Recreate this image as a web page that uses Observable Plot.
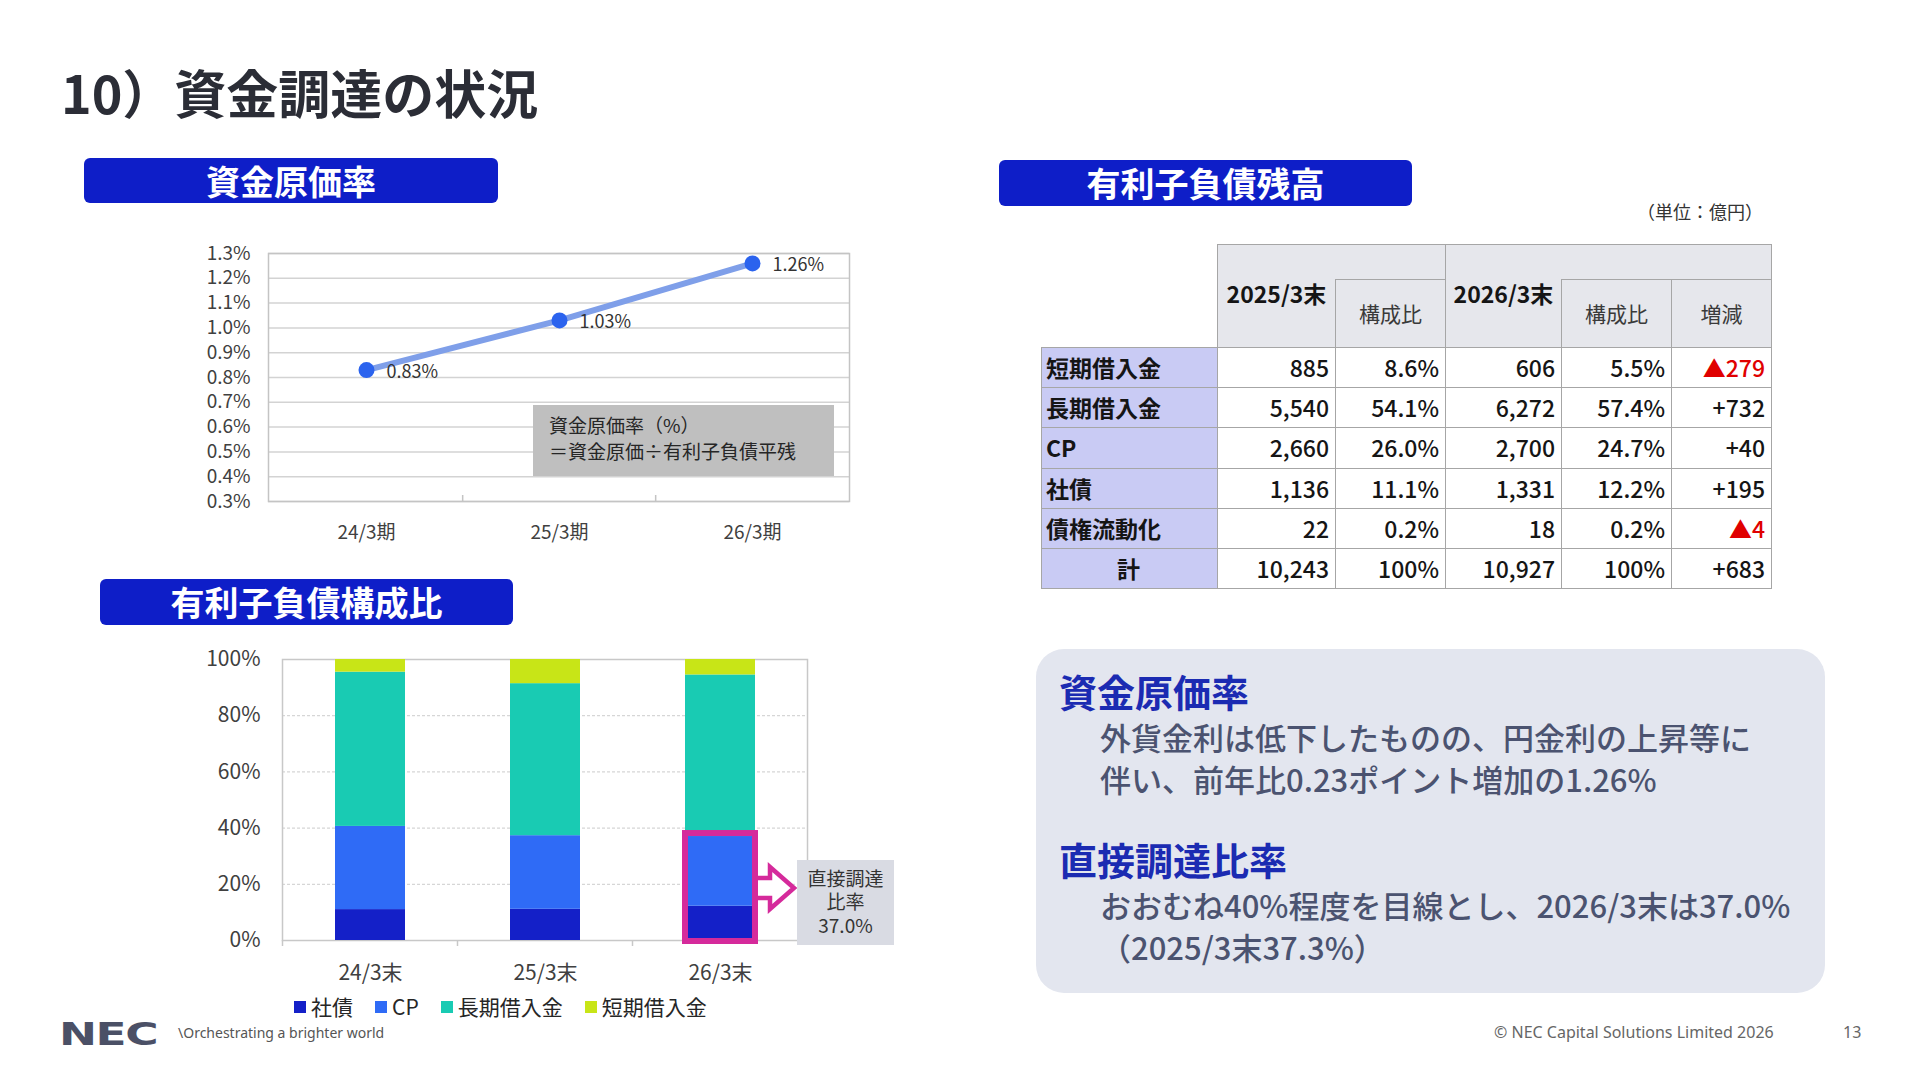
<!DOCTYPE html>
<html lang="ja">
<head>
<meta charset="utf-8">
<title>資金調達の状況</title>
<script src="https://cdn.jsdelivr.net/npm/d3@7"></script>
<script src="https://cdn.jsdelivr.net/npm/@observablehq/plot@0.6"></script>
<style>
  html, body { margin: 0; padding: 0; background: #fff; }
  #slide { position: relative; width: 1920px; height: 1080px; overflow: hidden;
           font-family: "Noto Sans CJK JP", "Noto Sans", sans-serif; color: #222; }
  .abs { position: absolute; white-space: nowrap; line-height: 1; }
  .title { left: 61px; top: 66px; font-size: 52px; font-weight: 700; color: #2b2d36; }
  .badge { position: absolute; background: #0e1ec8; color: #fff; font-weight: 700; font-size: 34px;
           border-radius: 6px; display: flex; align-items: center; justify-content: center; line-height: 1; }
  .formula { position: absolute; left: 533px; top: 405px; width: 301px; height: 71px; background: #bfbfbf; }
  .formula div { position: absolute; left: 16px; font-size: 19px; color: #262626; line-height: 1; white-space: nowrap; }
  #debt { position: absolute; left: 1041px; top: 244px; border-collapse: collapse; table-layout: fixed;
          font-size: 23px; color: #151515; }
  #debt td { border: 1.5px solid #a6a6a6; padding: 0 6px; box-sizing: border-box; line-height: 1; }
  #debt td.blank { border: none; background: #fff; }
  #debt td.head { background: #e6e7ec; text-align: center; }
  #debt td.year { font-weight: 700; border-right: none; padding-bottom: 6px; }
  #debt td.cap { border-left: none; }
  #debt td.sub { color: #3a3a3a; font-size: 21px; }
  #debt td.lab { background: #c9cbf4; font-weight: 700; text-align: left; padding-left: 4px; }
  #debt td.num { text-align: right; font-weight: 500; }
  #debt td.neg { color: #e00000; }
  .unit { right: 157px; top: 202px; font-size: 18px; color: #333; }
  .note { position: absolute; left: 1036px; top: 649px; width: 789px; height: 344px;
          background: #e3e6ef; border-radius: 28px; }
  .nh { left: 1059px; font-size: 38px; font-weight: 700; color: #1b2bb2; }
  .nb { left: 1100px; font-size: 31px; font-weight: 500; color: #4b5370; }
  #legend { left: 294px; top: 996px; display: flex; align-items: center; font-size: 21px; color: #262626; }
  #legend .item { display: flex; align-items: center; margin-right: 22px; }
  #legend .sw { width: 12px; height: 12px; margin-right: 5px; }
  .nec { left: 59px; top: 1018px; font-family: "DejaVu Sans", sans-serif; font-weight: 700; font-size: 32px;
         color: #4b5066; transform: scaleX(1.42); transform-origin: left center; letter-spacing: -1px; }
  .tag { left: 178px; top: 1026px; font-family: "Noto Sans", sans-serif; font-size: 14px; color: #555; }
  .copy { left: 1494px; top: 1024px; font-family: "Noto Sans", sans-serif; font-size: 16px; color: #666; }
  .page { left: 1843px; top: 1024px; font-family: "Noto Sans", sans-serif; font-size: 16px; color: #666; }
</style>
</head>
<body>
<div id="slide">
  <div class="abs title">10）資金調達の状況</div>

  <div class="badge" style="left:84px;top:158px;width:414px;height:45px;">資金原価率</div>
  <div class="badge" style="left:999px;top:160px;width:413px;height:46px;">有利子負債残高</div>
  <div class="badge" style="left:100px;top:579px;width:413px;height:46px;">有利子負債構成比</div>

  <div id="lineWrap" class="abs" style="left:180px;top:230px;"></div>
  <div class="formula">
    <div style="top:10px;">資金原価率（%）</div>
    <div style="top:36px;">＝資金原価÷有利子負債平残</div>
  </div>

  <div id="barWrap" class="abs" style="left:190px;top:640px;"></div>
  <div id="legend" class="abs"></div>

  <div class="abs unit">（単位：億円）</div>
  <table id="debt"></table>

  <div class="note"></div>
  <div class="abs nh" style="top:672px;">資金原価率</div>
  <div class="abs nb" style="top:721px;">外貨金利は低下したものの、円金利の上昇等に</div>
  <div class="abs nb" style="top:763px;">伴い、前年比0.23ポイント増加の1.26%</div>
  <div class="abs nh" style="top:840px;">直接調達比率</div>
  <div class="abs nb" style="top:889px;">おおむね40%程度を目線とし、2026/3末は37.0%</div>
  <div class="abs nb" style="top:931px;">（2025/3末37.3%）</div>

  <div class="abs nec">NEC</div>
  <div class="abs tag">\Orchestrating a brighter world</div>
  <div class="abs copy">© NEC Capital Solutions Limited 2026</div>
  <div class="abs page">13</div>
</div>

<script>
// ---- 資金原価率 ----
const periods = ["24/3期", "25/3期", "26/3期"];
const costRate = [0.83, 1.03, 1.26];
const rateTicks = [0.3, 0.4, 0.5, 0.6, 0.7, 0.8, 0.9, 1.0, 1.1, 1.2, 1.3];

// ---- 有利子負債構成比 (%) ----
const stockDates = ["24/3末", "25/3末", "26/3末"];
const seriesNames = ["社債", "CP", "長期借入金", "短期借入金"];
const seriesColors = ["#1420c8", "#2f6bf6", "#19cbb3", "#c8e517"];
const bondShare = [11.0, 11.1, 12.2];
const cpShare = [29.6, 26.2, 24.8];
const longLoanShare = [54.9, 54.1, 57.5];
const shortLoanShare = [4.5, 8.6, 5.5];
const shareTicks = [0, 20, 40, 60, 80, 100];
const directDate = "26/3末";
const directRatio = 37.0;
const directLabel = ["直接調達", "比率", "37.0%"];

// ---- 有利子負債残高 (億円) ----
const tableRows = ["短期借入金", "長期借入金", "CP", "社債", "債権流動化", "計"];
const bal2025 = [885, 5540, 2660, 1136, 22, 10243];
const share2025 = ["8.6%", "54.1%", "26.0%", "11.1%", "0.2%", "100%"];
const bal2026 = [606, 6272, 2700, 1331, 18, 10927];
const share2026 = ["5.5%", "57.4%", "24.7%", "12.2%", "0.2%", "100%"];
const change = [-279, 732, 40, 195, -4, 683];

const FONT = '"Noto Sans CJK JP", "Noto Sans", sans-serif';

// Line chart of the funding cost ratio
const lineData = periods.map((p, i) => ({period: p, rate: costRate[i]}));
const lineW = 700, lineML = 88, lineMR = 31;
const lineStep = (lineW - lineML - lineMR) / periods.length;
const lineChart = Plot.plot({
  width: lineW, height: 320,
  marginLeft: lineML, marginRight: lineMR, marginTop: 23, marginBottom: 49,
  style: {fontFamily: FONT, fontSize: "19px", color: "#404040", background: "transparent", overflow: "visible"},
  x: {type: "point", domain: periods, padding: 0.5, label: null, tickSize: 0, tickPadding: 24},
  y: {domain: [0.3, 1.3], ticks: rateTicks, tickFormat: d => d.toFixed(1) + "%", label: null, tickSize: 0, tickPadding: 18},
  marks: [
    Plot.gridY(rateTicks, {stroke: "#d3d3d3", strokeOpacity: 1, strokeWidth: 1.5}),
    Plot.frame({stroke: "#c4c4c4", strokeWidth: 1.5}),
    Plot.ruleX(periods.slice(1), {x: d => d, dx: -lineStep / 2, y1: 0.3, y2: 0.3, insetTop: -6, stroke: "#c4c4c4", strokeWidth: 1.5}),
    Plot.line(lineData, {x: "period", y: "rate", stroke: "#7f9fe9", strokeWidth: 6}),
    Plot.dot(lineData, {x: "period", y: "rate", r: 8, fill: "#2b63ee"}),
    Plot.text(lineData, {x: "period", y: "rate", text: d => d.rate.toFixed(2) + "%", dx: 20, dy: 2,
                         textAnchor: "start", fontSize: 18, fill: "#333"})
  ]
});
document.getElementById("lineWrap").appendChild(lineChart);

// Stacked composition bars
const shareRows = stockDates.flatMap((d, i) => [
  {date: d, series: seriesNames[0], share: bondShare[i]},
  {date: d, series: seriesNames[1], share: cpShare[i]},
  {date: d, series: seriesNames[2], share: longLoanShare[i]},
  {date: d, series: seriesNames[3], share: shortLoanShare[i]}
]);
const barChart = Plot.plot({
  width: 710, height: 355,
  marginLeft: 92, marginRight: 93, marginTop: 19, marginBottom: 55,
  style: {fontFamily: FONT, fontSize: "21px", color: "#404040", background: "transparent", overflow: "visible"},
  x: {type: "band", domain: stockDates, paddingInner: 0.6, paddingOuter: 0.3, label: null, tickSize: 0, tickPadding: 25},
  y: {domain: [0, 100], ticks: shareTicks, tickFormat: d => d + "%", label: null, tickSize: 0, tickPadding: 22},
  color: {domain: seriesNames, range: seriesColors},
  marks: [
    Plot.gridY(shareTicks, {stroke: "#d6d6d6", strokeOpacity: 1, strokeWidth: 1.2, strokeDasharray: "3,2"}),
    Plot.frame({stroke: "#c8c8c8", strokeWidth: 1.5}),
    Plot.barY(shareRows, {x: "date", y: "share", fill: "series"}),
    Plot.barY([{date: directDate, direct: directRatio}],
              {x: "date", y1: 0, y2: "direct", fill: "none", stroke: "#d52a9b", strokeWidth: 6, insetTop: -3, insetBottom: -1})
  ]
});
document.getElementById("barWrap").appendChild(barChart);

// Category separators, arrow and callout, positioned from the chart's scales
{
  const xs = barChart.scale("x"), ys = barChart.scale("y");
  const g = d3.select(barChart).append("g");
  const bw = xs.bandwidth;
  const gap = (bw / 0.4 - bw) / 2;
  const y0 = ys.apply(0);
  stockDates.forEach(d => {
    const bx = xs.apply(d) - gap;
    g.append("line").attr("x1", bx).attr("x2", bx).attr("y1", y0).attr("y2", y0 + 6)
      .attr("stroke", "#c8c8c8").attr("stroke-width", 1.5);
  });
  const xr = xs.apply(directDate) + bw + 3;
  const yc = ys.apply(directRatio / 2);
  const sh = 10, hh = 21, x1 = xr + 12, xt = xr + 36;
  g.append("path")
    .attr("d", `M${xr},${yc - sh}L${x1},${yc - sh}L${x1},${yc - hh}L${xt},${yc}L${x1},${yc + hh}L${x1},${yc + sh}L${xr},${yc + sh}`)
    .attr("fill", "#fff").attr("stroke", "#d52a9b").attr("stroke-width", 4.5).attr("stroke-linejoin", "miter");
  const bx0 = xr + 39, bwid = 97, btop = yc - 28, bh = 85;
  g.append("rect").attr("x", bx0).attr("y", btop).attr("width", bwid).attr("height", bh).attr("fill", "#d9dbe3");
  directLabel.forEach((t, i) => {
    g.append("text").attr("x", bx0 + bwid / 2).attr("y", btop + 17 + i * 23.5)
      .attr("text-anchor", "middle").attr("dominant-baseline", "central")
      .attr("font-size", 19).attr("fill", "#333").text(t);
  });
}

// Legend
{
  const lg = document.getElementById("legend");
  seriesNames.forEach((name, i) => {
    const item = document.createElement("div");
    item.className = "item";
    const sw = document.createElement("span");
    sw.className = "sw";
    sw.style.background = seriesColors[i];
    const tx = document.createElement("span");
    tx.textContent = name;
    item.appendChild(sw);
    item.appendChild(tx);
    lg.appendChild(item);
  });
}

// Balance table
{
  const fmt = d3.format(",");
  const widths = [176, 118, 110, 116, 110, 100];
  const cols = widths.map(w => `<col style="width:${w}px">`).join("");
  let html = `<colgroup>${cols}</colgroup>`;
  html += `<tr style="height:35px">
    <td class="blank" rowspan="2"></td>
    <td class="head year" rowspan="2">2025/3末</td>
    <td class="head cap"></td>
    <td class="head year" rowspan="2">2026/3末</td>
    <td class="head cap" colspan="2"></td></tr>`;
  html += `<tr style="height:68px">
    <td class="head sub">構成比</td>
    <td class="head sub">構成比</td>
    <td class="head sub">増減</td></tr>`;
  tableRows.forEach((r, i) => {
    const c = change[i];
    const cTxt = c < 0 ? "▲" + fmt(-c) : "+" + fmt(c);
    const labStyle = r === "計" ? ' style="text-align:center"' : "";
    html += `<tr style="height:40.2px">
      <td class="lab"${labStyle}>${r}</td>
      <td class="num">${fmt(bal2025[i])}</td>
      <td class="num">${share2025[i]}</td>
      <td class="num">${fmt(bal2026[i])}</td>
      <td class="num">${share2026[i]}</td>
      <td class="num${c < 0 ? " neg" : ""}">${cTxt}</td></tr>`;
  });
  document.getElementById("debt").innerHTML = html;
}
</script>
</body>
</html>
